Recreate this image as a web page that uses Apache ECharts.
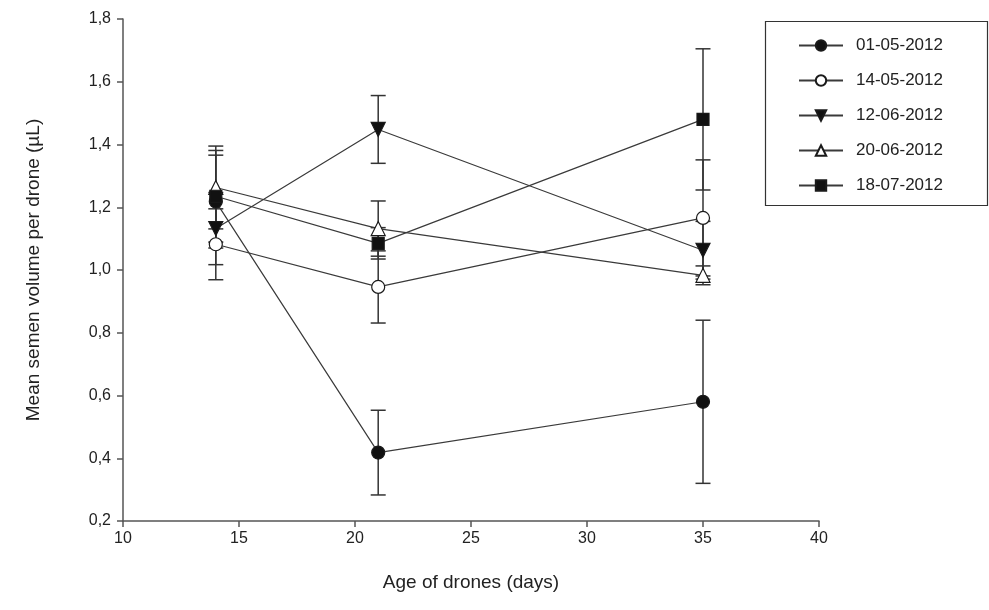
<!DOCTYPE html>
<html>
<head>
<meta charset="utf-8">
<script src="https://cdn.jsdelivr.net/npm/echarts@6/dist/echarts.min.js"></script>
<style>html,body{margin:0;padding:0;background:#fff;}#c{width:989px;height:610px;}</style>
</head>
<body>
<div id="c"></div>
<script>
var ages = [14, 21, 35];
var seriesNames = ['01-05-2012', '14-05-2012', '12-06-2012', '20-06-2012', '18-07-2012'];
var s0501 = [1.218, 0.418, 0.58];
var s1405 = [1.082, 0.946, 1.166];
var s1206 = [1.132, 1.448, 1.063];
var s2006 = [1.263, 1.132, 0.983];
var s1807 = [1.235, 1.085, 1.48];
var e0501 = [0.148, 0.135, 0.26];
var e1405 = [0.113, 0.115, 0.185];
var e1206 = [0.115, 0.108, 0.092];
var e2006 = [0.132, 0.088, 0.03];
var e1807 = [0.146, 0.05, 0.225];
var xTicks = [10, 15, 20, 25, 30, 35, 40];
var yTicks = [0.2, 0.4, 0.6, 0.8, 1.0, 1.2, 1.4, 1.6, 1.8];

var values = [s0501, s1405, s1206, s2006, s1807];
var errors = [e0501, e1405, e1206, e2006, e1807];
var symbols = ['circle', 'circle', 'triangle', 'triangle', 'rect'];
var rotates = [0, 0, 180, 0, 0];
var fills = ['#111', '#fff', '#111', '#fff', '#111'];
var sizes = [13, 13, 14, 14, 12];
var FONT = '"Liberation Sans", Arial, sans-serif';

var series = [];
var errData = [];
for (var i = 0; i < values.length; i++) {
  var d = [];
  for (var j = 0; j < ages.length; j++) {
    d.push([ages[j], values[i][j]]);
    errData.push([ages[j], values[i][j], errors[i][j]]);
  }
  series.push({
    name: seriesNames[i],
    type: 'line',
    data: d,
    z: 3,
    symbol: symbols[i],
    symbolRotate: rotates[i],
    symbolSize: sizes[i],
    showAllSymbol: true,
    lineStyle: { color: '#3a3a3a', width: 1.2 },
    itemStyle: { color: fills[i], borderColor: '#1a1a1a', borderWidth: 1.2 },
    emphasis: { disabled: true },
    animation: false
  });
}
series.push({
  type: 'custom',
  name: 'err',
  z: 2,
  data: errData,
  animation: false,
  renderItem: function (params, api) {
    var x = api.value(0), y = api.value(1), e = api.value(2);
    var top = api.coord([x, y + e]);
    var bot = api.coord([x, y - e]);
    var hw = 7.5;
    var st = { stroke: '#333', lineWidth: 1.5 };
    return {
      type: 'group',
      children: [
        { type: 'line', shape: { x1: top[0], y1: top[1], x2: bot[0], y2: bot[1] }, style: st },
        { type: 'line', shape: { x1: top[0] - hw, y1: top[1], x2: top[0] + hw, y2: top[1] }, style: st },
        { type: 'line', shape: { x1: bot[0] - hw, y1: bot[1], x2: bot[0] + hw, y2: bot[1] }, style: st }
      ]
    };
  }
});

var chart = echarts.init(document.getElementById('c'), null, { renderer: 'canvas' });
chart.setOption({
  backgroundColor: '#fff',
  animation: false,
  textStyle: { fontFamily: FONT },
  grid: { left: 123, right: 170, top: 19, bottom: 89, containLabel: false },
  xAxis: {
    type: 'value', min: xTicks[0], max: xTicks[xTicks.length - 1], interval: 5,
    name: 'Age of drones (days)', nameLocation: 'middle', nameGap: 52,
    nameTextStyle: { fontSize: 19, color: '#222', fontFamily: FONT },
    axisLine: { show: true, lineStyle: { color: '#555', width: 1.5 } },
    axisTick: { show: true, inside: false, length: 6, lineStyle: { color: '#555', width: 1.5 } },
    axisLabel: { fontSize: 16, color: '#222', margin: 10, fontFamily: FONT },
    splitLine: { show: false }
  },
  yAxis: {
    type: 'value', min: yTicks[0], max: yTicks[yTicks.length - 1], interval: 0.2,
    name: 'Mean semen volume per drone (\u00b5L)', nameLocation: 'middle', nameGap: 80, nameRotate: 90,
    nameTextStyle: { fontSize: 19, color: '#222', fontFamily: FONT },
    axisLine: { show: true, lineStyle: { color: '#555', width: 1.5 } },
    axisTick: { show: true, inside: false, length: 6, lineStyle: { color: '#555', width: 1.5 } },
    axisLabel: { fontSize: 16, color: '#222', margin: 12, fontFamily: FONT,
      formatter: function (v) { return v.toFixed(1).replace('.', ','); } },
    splitLine: { show: false }
  },
  legend: {
    data: seriesNames,
    orient: 'vertical',
    left: 798, top: 37,
    itemWidth: 44, itemHeight: 13, itemGap: 18,
    padding: 0,
    textStyle: { fontSize: 17, color: '#222', fontFamily: FONT, padding: [0, 0, 0, 8] },
    selectedMode: false
  },
  graphic: [{
    type: 'rect', left: 763, top: 19, z: 0,
    shape: { width: 222, height: 184 },
    style: { fill: 'none', stroke: '#333', lineWidth: 1.2 }
  }],
  series: series
});
</script>
</body>
</html>
